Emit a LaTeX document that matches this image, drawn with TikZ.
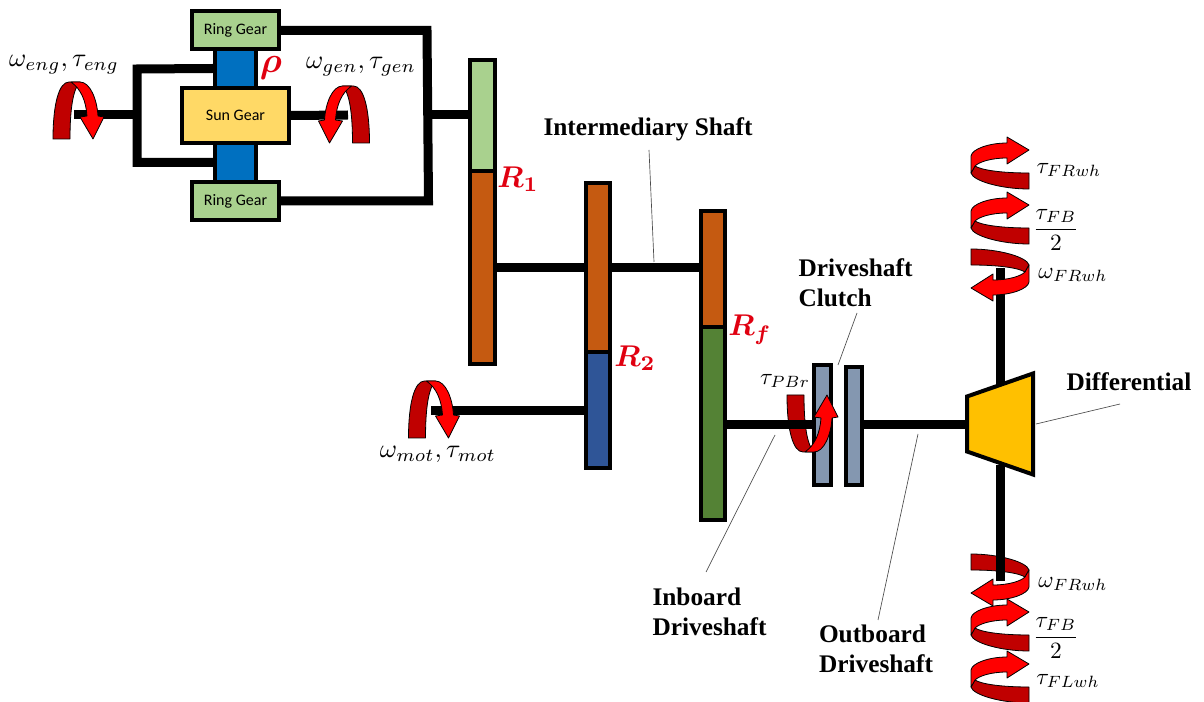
\documentclass[tikz,border=0pt]{standalone}
\usepackage{amsmath}
\usepackage{bm}
\usepackage{fontspec}
\setmainfont{Carlito}
\newfontfamily\serifbold{Liberation Serif}[BoldFont={Liberation Serif Bold}]

\definecolor{ringgreen}{HTML}{A9D18E}
\definecolor{carrierblue}{HTML}{0070C0}
\definecolor{sunyellow}{HTML}{FFD966}
\definecolor{gearorange}{HTML}{C55A11}
\definecolor{geardarkblue}{HTML}{2F5597}
\definecolor{geargreen}{HTML}{548235}
\definecolor{clutchgrey}{HTML}{8497B0}
\definecolor{diffyellow}{HTML}{FFC000}
\definecolor{bandred}{HTML}{C00000}
\definecolor{ratiored}{HTML}{E00010}

\tikzset{
  gear/.style 2 args={rectangle, draw=black, line width=3pt, inner sep=0pt,
    minimum width=#1*0.75pt, minimum height=#2*0.75pt, font=\fontsize{12}{14}\selectfont},
  shaft/.style={draw=black, line width=6.75pt},
  leader/.style={draw=black!70, line width=0.5pt},
  desc/.style={font=\serifbold\bfseries\fontsize{19}{22.5}\selectfont, align=left, inner sep=0pt},
  sym/.style={scale=1.75, inner sep=0pt},
  symwide/.style={scale=1.97, inner sep=0pt},
  ratio/.style={scale=2.25, text=ratiored, inner sep=0pt},
  band/.style={draw=black, line width=0.6pt, line join=round},
  % arch arrow around a horizontal shaft, back part and front part
  archback/.pic={
    \path [band, fill=bandred] (0,0) .. controls (0,-35) and (6,-57) .. (16,-57)
      -- (27,-57) .. controls (20,-50) and (17,-30) .. (17,0) -- cycle;
  },
  archfront/.pic={
    \path [band, fill=red] (18,-57) -- (27,-57) .. controls (37,-57) and (44,-40) .. (45,-23)
      -- (51,-22) -- (40,0) -- (27,-22) -- (34,-23) .. controls (33,-38) and (28,-50) .. (18,-57) -- cycle;
  },
  % spiral arrow around a vertical shaft, back part and front part
  spiralback/.pic={
    \path [band, fill=bandred] (0,0) .. controls (2,8) and (30,16) .. (58,16)
      -- (58,0) .. controls (30,0) and (10,-3) .. (4,-7) -- cycle;
  },
  spiralfront/.pic={
    \path [band, fill=red] (0,0) -- (0,-17) .. controls (1,-24) and (18,-30) .. (36,-30)
      -- (36,-36) -- (58,-23) -- (36,-9) -- (36,-15) .. controls (20,-15) and (8,-11) .. (4,-7) -- cycle;
  }
}

\begin{document}
\begin{tikzpicture}[x=0.75pt, y=-0.75pt]
\useasboundingbox (0,0) rectangle (1204,702);

% planetary set
\node [gear={41}{47}, fill=carrierblue] (carriertop) at (235.5,68.5) {};
\node [gear={41}{47}, fill=carrierblue] (carrierbot) at (235.5,162.5) {};
\node [gear={87}{38}, fill=ringgreen] (ringtop) at (235.5,30) {Ring Gear};
\node [gear={87}{38}, fill=ringgreen] (ringbot) at (235.5,201) {Ring Gear};
\node [gear={107}{55}, fill=sunyellow] (sun) at (235.5,115.5) {Sun Gear};

% gear bars
\node [gear={25}{111}, fill=ringgreen] (ronegreen) at (482.5,115.5) {};
\node [gear={25}{193}, fill=gearorange] (roneorange) at (482.5,267.5) {};
\node [gear={24}{169}, fill=gearorange] (rtwoorange) at (598,267.5) {};
\node [gear={24}{116}, fill=geardarkblue] (rtwoblue) at (598,410) {};
\node [gear={24}{116}, fill=gearorange] (rforange) at (713,269) {};
\node [gear={24}{193}, fill=geargreen] (rfgreen) at (713,423.5) {};

% clutch and differential
\node [gear={17}{119}, fill=clutchgrey] (clutchleft) at (822.5,425) {};
\node [gear={16}{118}, fill=clutchgrey] (clutchright) at (854,426) {};
\draw [line width=3pt, fill=diffyellow, line join=miter]
  (967,396.5) coordinate (diffa) -- (1033,373.5) -- (1033,474.5) -- (967,451.5) coordinate (diffb) -- cycle;

% free ends of the shafts
\coordinate (engend) at (74,115);
\coordinate (enghub) at (137,115);
\coordinate (genend) at (348,115);
\coordinate (ringhub) at (428,115);
\coordinate (motend) at (431,411);
\coordinate (cornertop) at (427,30.5);
\coordinate (cornerbot) at (428.5,201);
\coordinate (forktop) at (137,69);
\coordinate (forkbot) at (137,162.5);
\coordinate (intermaxis) at (0,268);
\coordinate (driveaxis) at (0,425);
\coordinate (wheeltop) at (1000,268);
\coordinate (wheelbot) at (1000,581);

% shafts
\draw [shaft] (engend) -- (enghub);
\draw [shaft, line join=miter] (carriertop.west) -- (forktop) -- (forkbot) -- (carrierbot.west);
\draw [shaft] (sun.east) -- (genend);
\draw [shaft, line join=miter] (ringtop.east |- cornertop) -- (cornertop) -- (cornerbot) -- (ringbot.east |- cornerbot);
\draw [shaft] (ringhub) -- (ronegreen.west |- ringhub);
\draw [shaft] (roneorange.east |- intermaxis) -- (rtwoorange.west |- intermaxis);
\draw [shaft] (rtwoorange.east |- intermaxis) -- (rforange.west |- intermaxis);
\draw [shaft] (motend) -- (rtwoblue.west |- motend);

% back parts of the arrows
\pic at (53,139) {archback};
\pic [xscale=-1] at (369.5,143) {archback};
\pic at (408.5,438) {archback};
\pic [yscale=-1] at (787,395) {archback};
\pic [rotate=180] at (1029,265) {spiralback};
\pic [rotate=180] at (1029,570) {spiralback};
\pic at (971,173) {spiralback};
\pic at (971,228) {spiralback};
\pic at (971,635) {spiralback};
\pic at (971,687) {spiralback};

% shafts that run over the back parts
\draw [shaft] (rfgreen.east |- driveaxis) -- (clutchleft.west |- driveaxis);
\draw [shaft] (clutchright.east |- driveaxis) -- (diffa |- driveaxis);
\draw [shaft] (wheeltop) -- (1000,385);
\draw [shaft] (1000,465) -- (wheelbot);

% front parts of the arrows
\pic at (53,139) {archfront};
\pic [xscale=-1] at (369.5,143) {archfront};
\pic at (408.5,438) {archfront};
\pic [yscale=-1] at (787,395) {archfront};
\pic [rotate=180] at (1029,265) {spiralfront};
\pic [rotate=180] at (1029,570) {spiralfront};
\pic at (971,173) {spiralfront};
\pic at (971,228) {spiralfront};
\pic at (971,635) {spiralfront};
\pic at (971,687) {spiralfront};

% symbols
\node [symwide] (symeng) at (64,65) {$\omega_{eng},\tau_{eng}$};
\node [symwide] (symgen) at (361,67) {$\omega_{gen},\tau_{gen}$};
\node [symwide] (symmot) at (438,454) {$\omega_{mot},\tau_{mot}$};
\node [sym] (sympbr) at (785,381) {$\tau_{PBr}$};
\node [sym] (symfrwh) at (1069,170) {$\tau_{FRwh}$};
\node [sym] (symfbtop) at (1056,230) {$\dfrac{\tau_{FB}}{2}$};
\node [sym] (symomfr) at (1073,275) {$\omega_{FRwh}$};
\node [sym] (symomfl) at (1073,584) {$\omega_{FRwh}$};
\node [sym] (symfbbot) at (1056,638) {$\dfrac{\tau_{FB}}{2}$};
\node [sym] (symflwh) at (1068,681) {$\tau_{FLwh}$};

% gear ratios
\node [ratio, scale=1.2] (rho) at (271,68) {$\bm{\rho}$};
\node [ratio] (rone) at (518,179) {$\bm{R_1}$};
\node [ratio] (rtwo) at (635,358) {$\bm{R_2}$};
\node [ratio] (rf) at (750,330) {$\bm{R_f}$};

% descriptions
\node [desc] (interm) at (648,129) {Intermediary Shaft};
\node [desc] (clutch) at (855.5,283) {Driveshaft\\Clutch};
\node [desc] (differential) at (1129,382) {Differential};
\node [desc] (inboard) at (709.5,612) {Inboard\\Driveshaft};
\node [desc] (outboard) at (876,649) {Outboard\\Driveshaft};

% leaders
\coordinate (intermshaft) at (654,262);
\coordinate (inboardshaft) at (775,435);
\coordinate (outboardshaft) at (918,434);
\coordinate (clutchplate) at (838,365);
\coordinate (diffside) at (1036,424);
\path [leader] (649,150) -- (intermshaft);
\path [leader] (857,313) -- (clutchplate);
\path [leader] (1120,404) -- (diffside);
\path [leader] (706,572) -- (inboardshaft);
\path [leader] (878,620) -- (outboardshaft);
\end{tikzpicture}
\end{document}
